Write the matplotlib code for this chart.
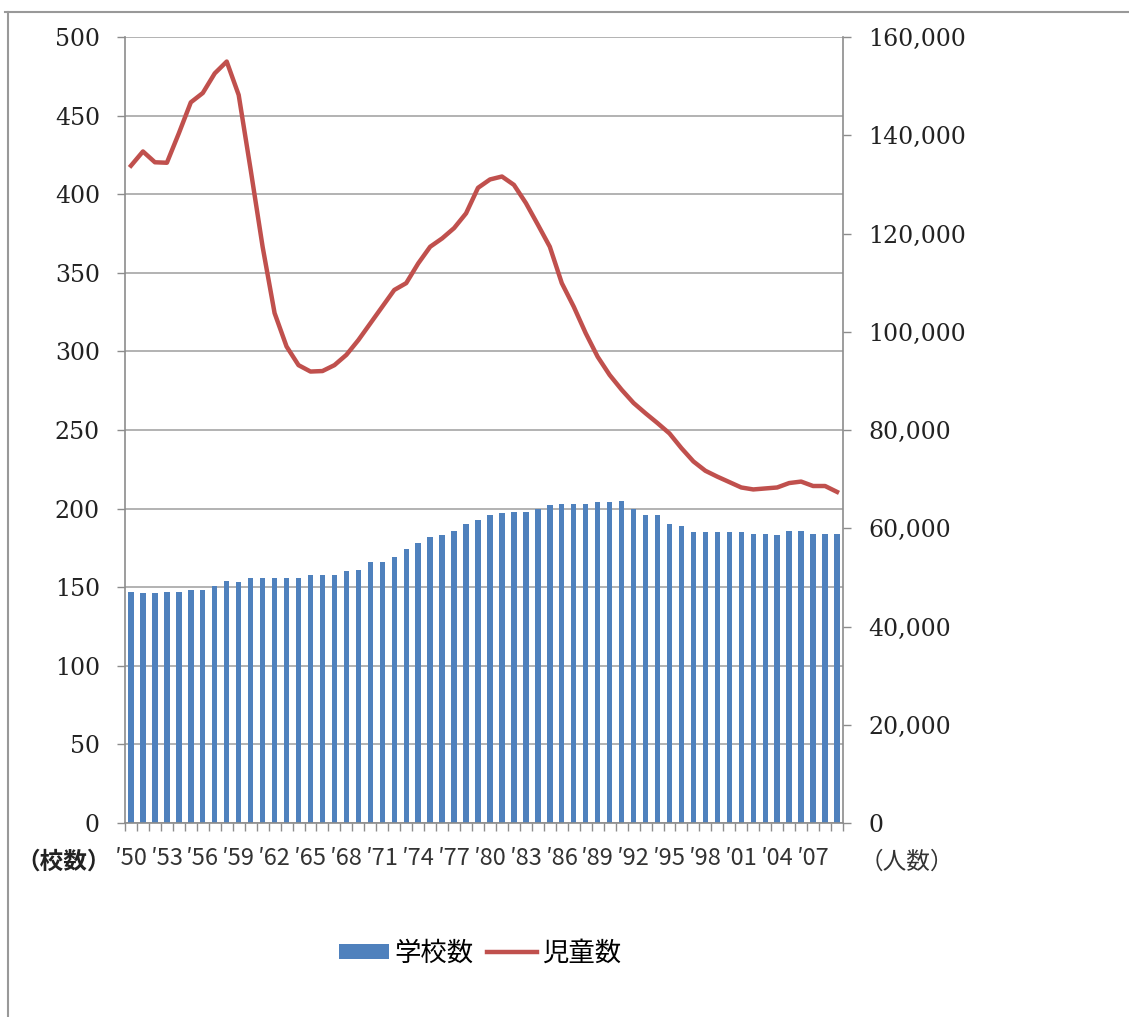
import matplotlib
matplotlib.use("Agg")
import matplotlib.pyplot as plt
from matplotlib.lines import Line2D
from matplotlib.patches import Patch
from matplotlib.ticker import FuncFormatter
import numpy as np

plt.rcParams['font.family'] = ['Noto Sans CJK JP', 'DejaVu Sans']

# data: 1950 - 2009
years = list(range(1950, 2010))
schools = [147, 146, 146, 147, 147, 148, 148, 151, 154, 153,
           156, 156, 156, 156, 156, 158, 158, 158, 160, 161,
           166, 166, 169, 174, 178, 182, 183, 186, 190, 193,
           196, 197, 198, 198, 200, 202, 203, 203, 203, 204,
           204, 205, 200, 196, 196, 190, 189, 185, 185, 185,
           185, 185, 184, 184, 183, 186, 186, 184, 184, 184]
children = [133800, 136700, 134500, 134400, 140400, 146700, 148600, 152600, 155000, 148200,
            133000, 117300, 103800, 97000, 93200, 91900, 92000, 93200, 95300, 98300,
            101700, 105100, 108500, 109900, 113900, 117300, 119000, 121100, 124100, 129300,
            131000, 131600, 129900, 126200, 121800, 117300, 109900, 105100, 99700, 94900,
            91200, 88200, 85500, 83400, 81400, 79300, 76300, 73600, 71700, 70500,
            69400, 68300, 67900, 68100, 68300, 69200, 69500, 68600, 68600, 67400]
tick_labels = ["\u2032" + str(y)[2:] for y in years[::3]]

label_school = "学校数"
label_child = "児童数"

bar_color = '#4F81BD'
line_color = '#C0504D'
axis_gray = '#8c8c8c'

fig = plt.figure(figsize=(11.29, 10.17), dpi=100)
fig.patch.set_facecolor('white')
ax = fig.add_axes([125 / 1129, 1 - 823 / 1017, (843 - 125) / 1129, (823 - 37) / 1017])

x = np.arange(len(years))
ax.bar(x, schools, width=0.45, color=bar_color, zorder=2)
ax.set_xlim(-0.5, len(years) - 0.5)
ax.set_ylim(0, 500)
ax.set_yticks(range(0, 501, 50))
ax.yaxis.grid(True, color='#a6a6a6', lw=1.2)
ax.set_axisbelow(True)

ax.set_xticks(x[::3])
ax.set_xticklabels(tick_labels, fontsize=17, color='#333333')
ax.set_xticks(np.arange(-0.5, len(years), 1), minor=True)
ax.tick_params(axis='x', which='major', length=0, pad=17)
ax.tick_params(axis='x', which='minor', length=6, width=1, color=axis_gray, direction='out')
ax.tick_params(axis='y', length=6, width=1, color=axis_gray, pad=12)
for lab in ax.get_yticklabels():
    lab.set_fontfamily('DejaVu Serif')
    lab.set_fontsize(17)
    lab.set_color('#222222')

for s in ['top', 'right']:
    ax.spines[s].set_visible(False)
for s in ['left', 'bottom']:
    ax.spines[s].set_color(axis_gray)
    ax.spines[s].set_linewidth(1.2)

ax2 = ax.twinx()
ax2.plot(x, children, color=line_color, lw=3.2, solid_joinstyle='round')
ax2.set_ylim(0, 160000)
ax2.set_yticks(range(0, 160001, 20000))
ax2.yaxis.set_major_formatter(FuncFormatter(lambda v, p: f"{int(v):,}"))
ax2.tick_params(axis='y', length=6, width=1, color=axis_gray, pad=12)
for lab in ax2.get_yticklabels():
    lab.set_fontfamily('DejaVu Serif')
    lab.set_fontsize(17)
    lab.set_color('#222222')
for s in ['top', 'left', 'bottom']:
    ax2.spines[s].set_visible(False)
ax2.spines['right'].set_color(axis_gray)
ax2.spines['right'].set_linewidth(1.2)

# unit labels
fig.text(111 / 1129, 1 - 862 / 1017, "（校数）", ha='right', va='center', fontsize=17,
         fontweight='bold', color='#222222')
fig.text(860 / 1129, 1 - 862 / 1017, "（人数）", ha='left', va='center', fontsize=17,
         color='#333333')

handles = [Patch(facecolor=bar_color, edgecolor='none'),
           Line2D([0], [0], color=line_color, lw=3.2)]
fig.legend(handles, [label_school, label_child], loc='center', ncol=2,
           bbox_to_anchor=(480 / 1129, 1 - 953 / 1017), frameon=False, fontsize=19,
           handlelength=1.9, handleheight=0.5, handletextpad=0.2, columnspacing=0.5)

# outer frame (top and left only)
fig.add_artist(Line2D([5 / 1129, 1.0], [1 - 12 / 1017, 1 - 12 / 1017], color='#999999', lw=1.5))
fig.add_artist(Line2D([8 / 1129, 8 / 1129], [0, 1 - 12 / 1017], color='#999999', lw=1.5))

fig.savefig('out.png', dpi=100, facecolor='white')
